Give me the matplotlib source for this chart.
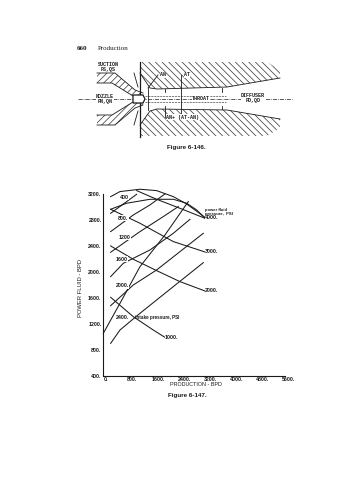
import matplotlib
matplotlib.use('Agg')
import matplotlib.pyplot as plt
from matplotlib.patches import Polygon
from matplotlib.transforms import ScaledTranslation

W, H = 358, 480
INK = '#1a1a1a'
MONO = 'Liberation Mono'
SANS = 'Liberation Sans'
SERIF = 'Liberation Serif'
plt.rcParams['hatch.linewidth'] = 0.5

# ---- Figure 6-147 data ----
x_ticks = [0, 800, 1600, 2400, 3200, 4000, 4800, 5600]
y_ticks = [400, 800, 1200, 1600, 2000, 2400, 2800, 3200]

# power fluid pressure curves
pf_env_x = [226, 513, 1128, 1641, 2154, 2564, 3128]
pf_env_y = [3164, 3242, 3278, 3257, 3164, 3051, 2845]
pf_4000_x = [226, 718, 1436, 2154, 2564, 2872, 3128]
pf_4000_y = [2969, 3062, 3123, 3123, 3062, 2959, 2830]
pf_inner_x = [1026, 1641, 2359, 3128]
pf_inner_y = [3257, 3123, 2984, 2830]
pf_3000_x = [226, 1128, 2154, 3128]
pf_3000_y = [2969, 2753, 2470, 2310]
pf_2000_x = [226, 923, 1641, 2359, 3128]
pf_2000_y = [2403, 2197, 2022, 1852, 1708]
pf_1000_x = [226, 923, 1538, 1897]
pf_1000_y = [1610, 1311, 1105, 992]

# intake pressure curves
in_400_x = [226, 1026]
in_400_y = [2907, 3200]
in_800_x = [226, 923, 1436, 1897]
in_800_y = [2624, 2881, 3036, 3206]
in_1200_x = [226, 1128, 1846, 2308]
in_1200_y = [2305, 2624, 2856, 3010]
in_1600_x = [226, 615, 1436, 2154, 2667]
in_1600_y = [1929, 2135, 2341, 2598, 2814]
in_2000_x = [226, 923, 1641, 2359, 3077]
in_2000_y = [1481, 1800, 2032, 2315, 2598]
in_2400_x = [226, 513, 1128, 2154, 3077]
in_2400_y = [899, 1105, 1363, 1775, 2145]
steep_x = [0, 513, 1128, 1897, 2615]
steep_y = [1054, 1517, 2083, 2572, 3087]

curves = [
    (pf_env_x, pf_env_y), (pf_4000_x, pf_4000_y), (pf_inner_x, pf_inner_y),
    (pf_3000_x, pf_3000_y), (pf_2000_x, pf_2000_y), (pf_1000_x, pf_1000_y),
    (in_400_x, in_400_y), (in_800_x, in_800_y), (in_1200_x, in_1200_y),
    (in_1600_x, in_1600_y), (in_2000_x, in_2000_y), (in_2400_x, in_2400_y),
    (steep_x, steep_y),
]

intake_labels = ['400', '800.', '1200', '1600', '2000.', '2400.']
intake_label_x = [646, 615, 646, 564, 585, 595]
intake_label_y = [3154, 2830, 2536, 2197, 1790, 1291]
end_labels = ['4000.', '3000.', '2000.', '1000.']
end_label_x = [3128, 3128, 3128, 1897]
end_label_y = [2835, 2310, 1708, 987]

fig = plt.figure(figsize=(W / 100, H / 100), dpi=100, facecolor='white')

# ---- chart axes ----
L, R, T, B = 103.3, 285.3, 194.3, 375.7
ax = fig.add_axes([L / W, 1 - B / H, (R - L) / W, (B - T) / H])
ax.set_xlim(0, 5600)
ax.set_ylim(400, 3200)
ax.patch.set_alpha(0)
for s in ('top', 'right'):
    ax.spines[s].set_visible(False)
for s in ('left', 'bottom'):
    ax.spines[s].set_linewidth(0.8)
    ax.spines[s].set_color(INK)
ax.set_xticks(x_ticks)
ax.set_yticks(y_ticks)
ax.set_xticklabels([f'{v}.' for v in x_ticks], family=SANS, fontsize=3.8, weight='bold', color=INK)
ax.set_yticklabels([f'{v}.' for v in y_ticks], family=SANS, fontsize=3.8, weight='bold', color=INK)
ax.tick_params(length=0, pad=1.2)
shift = ScaledTranslation(3 / 100, 0, fig.dpi_scale_trans)
for lab in ax.get_xticklabels():
    lab.set_transform(lab.get_transform() + shift)

for cx, cy in curves:
    ax.plot(cx, cy, color=INK, lw=0.75, clip_on=False, solid_joinstyle='round')

txt = dict(family=SANS, fontsize=3.8, weight='bold', color=INK, va='center')
for s, x, y in zip(intake_labels, intake_label_x, intake_label_y):
    ax.text(x, y, s, ha='center', bbox=dict(fc='white', ec='none', pad=0.3), zorder=3, **txt)
for s, x, y in zip(end_labels, end_label_x, end_label_y):
    ax.text(x, y, s, ha='left', bbox=dict(fc='white', ec='none', pad=0.2), zorder=3, **txt)
ax.text(974, 1306, 'intake pressure, PSI', ha='left', family=SANS, fontsize=3.3,
        weight='bold', color=INK, va='center')
ax.text(3128, 2928, 'power fluid\npressure,  PSI', ha='left', family=SANS, fontsize=3.1,
        weight='bold', color=INK, va='center', linespacing=0.95)

# ---- page overlay in pixel coordinates (schematic and page text) ----
ov = fig.add_axes([0, 0, 1, 1], zorder=-1)
ov.set_xlim(0, W)
ov.set_ylim(H, 0)
ov.axis('off')

def t(x, y, s, family=MONO, size=3.2, weight='bold', ha='center', **kw):
    ov.text(x, y, s, family=family, fontsize=size, weight=weight, ha=ha, va='center',
            color=INK, **kw)

t(77, 49, '660', family=SERIF, size=5.0, ha='left')
t(98, 49, 'Production', family=SERIF, size=5.0, weight='normal', ha='left')
t(186, 147, 'Figure 6-146.', family=SANS, size=4.5)
t(187, 396, 'Figure 6-147.', family=SANS, size=4.5)
t(81, 288, 'POWER FLUID - BPD', family=SANS, size=4.2, weight='normal', rotation=90)
t(196, 385, 'PRODUCTION - BPD', family=SANS, size=3.9, weight='normal')

# schematic outlines
diff_top = [(140, 62), (267, 62), (280, 70), (280, 78), (227, 87), (157, 89), (150, 88), (140, 73)]
diff_low = [(140, 136), (267, 136), (280, 128), (280, 119), (227, 110), (157, 109), (150, 111), (140, 125)]
diff_top_edge = [(280, 78), (227, 87), (157, 89), (150, 88), (140, 73)]
diff_low_edge = [(280, 119), (227, 110), (157, 109), (150, 111), (140, 125)]
noz_top = [(97, 73), (115, 73), (135, 90), (143, 93), (143, 96), (133, 96), (112, 83), (97, 83)]
noz_low = [(97, 125), (115, 125), (135, 108), (143, 105), (143, 102), (133, 102), (112, 115), (97, 115)]
noz_top_edge = [(97, 73), (115, 73), (135, 90), (143, 93)]
noz_top_edge2 = [(133, 96), (112, 83), (97, 83)]
noz_low_edge = [(97, 125), (115, 125), (135, 108), (143, 105)]
noz_low_edge2 = [(133, 102), (112, 115), (97, 115)]

for pts, hatch in ((diff_top, '\\' * 5), (diff_low, '\\' * 5), (noz_top, '/' * 5), (noz_low, '/' * 5)):
    ov.add_patch(Polygon(pts, closed=True, fc='white', ec='#333333', lw=0, hatch=hatch))
for pts in (diff_top_edge, diff_low_edge, noz_top_edge, noz_top_edge2, noz_low_edge, noz_low_edge2):
    ov.plot([p[0] for p in pts], [p[1] for p in pts], color=INK, lw=0.6)

seg = dict(color=INK, lw=0.6)
ov.plot([140, 140], [62, 137], color=INK, lw=0.9)
ov.plot([78, 292], [99, 99], color=INK, lw=0.5, dashes=(6, 1.5, 1, 1.5))
ov.add_patch(Polygon([(133, 95), (143, 95), (145, 99), (143, 103), (133, 103), (133, 95)],
                     closed=True, fc='white', ec=INK, lw=0.9, zorder=3))
ov.plot([145, 226], [96, 96], color=INK, lw=0.4, ls='--')
ov.plot([145, 226], [102, 102], color=INK, lw=0.4, ls='--')
ov.plot([134, 138], [73, 87], **seg)
ov.plot([134, 138], [125, 111], **seg)
for x, y0, y1 in ((148, 88, 110), (165, 89, 92), (165, 106, 117), (181, 75, 116),
                  (222, 88, 92), (222, 106, 109)):
    ov.plot([x, x], [y0, y1], **seg)
ov.plot([148, 158], [88, 75], **seg)

for x, y, s in ((108, 67, 'SUCTION\nPS,QS'), (105, 99, 'NOZZLE\nPN,QN'), (253, 98, 'DIFFUSER\nPD,QD')):
    ov.text(x, y, s, family=MONO, fontsize=3.6, weight='bold', ha='center', va='center', color=INK,
            linespacing=0.95, bbox=dict(fc='white', ec='none', pad=0.3), zorder=4)
for x, y, s in ((201, 99, 'THROAT'), (163, 75, 'AN'), (187, 75, 'AT'), (183, 117, 'AN+ (AT-AN)')):
    ov.text(x, y, s, family=MONO, fontsize=3.6, weight='bold', ha='center', va='center', color=INK,
            bbox=dict(fc='white', ec='none', pad=0.3), zorder=4)

fig.savefig('out.png', dpi=100, facecolor='white')
